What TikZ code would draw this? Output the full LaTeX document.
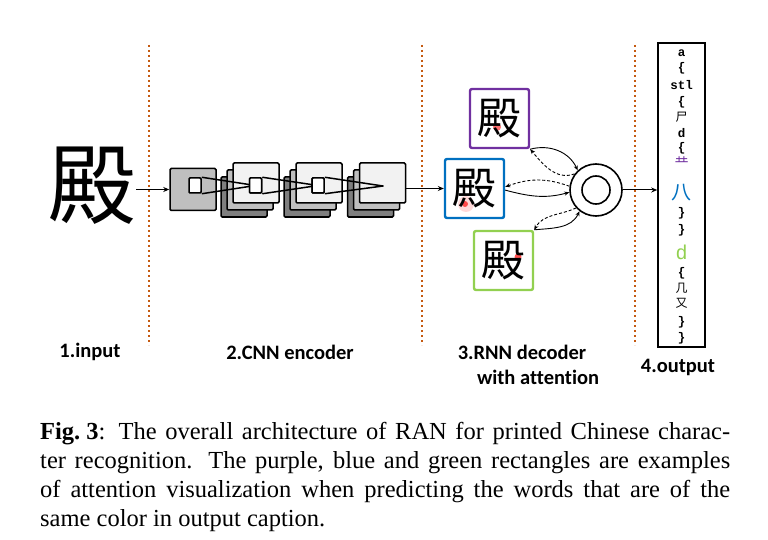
\documentclass[tikz,border=0pt]{standalone}
\usepackage{fontspec}
\setmainfont{Liberation Serif}
\newfontfamily\labfont{Carlito}[Ligatures=NoCommon]
\newfontfamily\cjk{Noto Sans CJK SC}
\newfontfamily\monofont{Liberation Mono}
\usetikzlibrary{arrows.meta}
\definecolor{dotor}{RGB}{197,90,17}
\definecolor{gA}{RGB}{191,191,191}
\definecolor{gB}{RGB}{127,127,127}
\definecolor{gF}{RGB}{242,242,242}
\definecolor{cpur}{RGB}{112,48,160}
\definecolor{cblu}{RGB}{0,112,192}
\definecolor{cgrn}{RGB}{146,208,80}
\begin{document}
\begin{tikzpicture}[x=1pt,y=-1pt,
  dotsep/.style={draw=dotor,line width=2.4pt,dash pattern=on 2.4pt off 2.6pt},
  fm/.style={draw=black,line width=1.5pt,rounded corners=1.2pt,minimum width=46pt,minimum height=40pt,inner sep=0pt},
  sr/.style={draw=black,line width=1.5pt,fill=white,rounded corners=1pt,minimum width=12pt,minimum height=15pt,inner sep=0pt},
  arr/.style={-{Stealth[length=6pt,width=5pt]},line width=1pt},
  att/.style={-{Stealth[length=5pt,width=4pt]},line width=0.9pt},
  attd/.style={att,dashed,dash pattern=on 3pt off 2pt},
  abox/.style={line width=2.4pt,rounded corners=2pt,minimum width=59pt,minimum height=59pt,inner sep=0pt},
  ach/.style={font=\cjk\fontsize{44}{44}\selectfont,inner sep=0pt},
  lab/.style={font=\labfont\bfseries\fontsize{20.5}{22}\selectfont,inner sep=0pt},
  ot/.style={font=\monofont\bfseries\fontsize{12.5}{12.5}\selectfont,inner sep=0pt},
  oc/.style={font=\cjk\fontsize{12}{12}\selectfont,inner sep=0pt},
  captxt/.style={anchor=base west,inner sep=0pt,font=\fontsize{24.5}{29}\selectfont}]
\useasboundingbox (0,0) rectangle (768,540);
% dotted separators
\draw[dotsep] (149,45) -- (149,345);
\draw[dotsep] (422,45) -- (422,345);
\draw[dotsep] (635,45) -- (635,345);
% input
\node[inner sep=0pt,font=\cjk\fontsize{88}{88}\selectfont] (in) at (92,186) {殿};
% CNN encoder
\node[fm,fill=gA,minimum height=42pt] (c1) at (193,189.5) {};
\foreach \i/\x in {2/256,3/319,4/382.5}{
  \node[fm,fill=gB] (b\i) at (\x-12,197) {};
  \node[fm,fill=gA] (m\i) at (\x-6,190) {};
  \node[fm,fill=gF] (f\i) at (\x,183) {};
}
\coordinate (apex) at (383,186);
\node[sr] (r1) at (195,185.5) {};
\node[sr] (r2) at (255.5,185.5) {};
\node[sr] (r3) at (318,185.5) {};
\draw[line width=1.5pt,line join=round] (r1.north east) -- (r2.center) -- (r1.south east);
\draw[line width=1.5pt,line join=round] (r2.north east) -- (r3.center) -- (r2.south east);
\draw[line width=1.5pt,line join=round] (r3.north east) -- (apex) -- (r3.south east);
\node[sr] at (r2) {};
\node[sr] at (r3) {};
% RNN decoder
\node[abox,draw=cpur] (pur) at (499.5,118.5) {};
\node[abox,draw=cblu] (blu) at (474.5,188.5) {};
\node[abox,draw=cgrn] (grn) at (503.5,260.5) {};
\fill[red!80,opacity=0.7] (497,127) circle (4);
\fill[red!30,opacity=0.5] (466,204) circle (8);
\fill[red!85,opacity=0.8] (465,204) circle (3);
\fill[red!85,opacity=0.8] (518,257) circle (3.5);
\node[ach] at (pur) {殿};
\node[ach] at (blu) {殿};
\node[ach] at (grn) {殿};
\node[circle,draw,line width=1.6pt,minimum size=52pt,inner sep=0pt] (dec) at (596,190) {};
\draw[line width=1.6pt] (dec.center) circle (14);
% output
\node[draw,line width=1.6pt,minimum width=47pt,minimum height=304pt,inner sep=0pt] (out) at (681.5,195) {};
\foreach \n/\y/\t in {1/53/a,2/68/\{,3/85/stl,4/102/\{,6/133/d,7/148/\{,10/213/\},11/230/\},13/273/\{,16/322/\},17/338/\}}{
  \node[ot] (o\n) at (681.5,\y) {\t};
}
\node[oc] (o5) at (681.5,117) {尸};
\node[oc,text=cpur,font=\cjk\fontsize{14}{14}\selectfont] (o8) at (681.5,163) {龷};
\node[font=\cjk\fontsize{20}{20}\selectfont,inner sep=0pt,text=cblu] (o9) at (681.5,193) {八};
\node[font=\monofont\fontsize{20}{20}\selectfont,inner sep=0pt,text=cgrn] (o12) at (681.5,252) {d};
\node[oc] (o14) at (681.5,288) {几};
\node[oc] (o15) at (681.5,303) {又};
% main arrows
\draw[arr] (in.east |- c1.west) -- (c1.west);
\draw[arr] (f4.east |- blu.west) -- (blu.west);
\draw[arr] (dec.east) -- (dec.east -| out.west);
% attention arrows
\draw[att] (pur.south east) to[out=15,in=115] (dec.133);
\draw[attd] (dec.143) to[out=200,in=-50] (pur.south east);
\draw[attd] (dec.172) to[out=160,in=20] (blu.3);
\draw[att] (blu.-3) to[out=-15,in=195] (dec.185);
\draw[attd] (dec.222) to[out=205,in=60] (grn.north east);
\draw[att] (grn.north east) to[out=5,in=245] (dec.232);
% labels
\node[lab] (l1) at (90,352) {1.input};
\node[lab] (l2) at (290,352) {2.CNN encoder};
\node[lab] (l3) at (522,352) {3.RNN decoder};
\node[lab] (l3b) at (538,377) {with attention};
\node[lab] (l4) at (678,367) {4.output};
% caption
\node[captxt] (k1) at (40,439) {\makebox[690pt][s]{{\bfseries Fig.\hspace{0.25em}3}: The overall architecture of RAN for printed Chinese charac-}};
\node[captxt] (k2) at (40,468) {\makebox[690pt][s]{ter recognition. The purple, blue and green rectangles are examples}};
\node[captxt] (k3) at (40,497) {\makebox[690pt][s]{of attention visualization when predicting the words that are of the}};
\node[captxt] (k4) at (40,526) {same color in output caption.};
\end{tikzpicture}
\end{document}
